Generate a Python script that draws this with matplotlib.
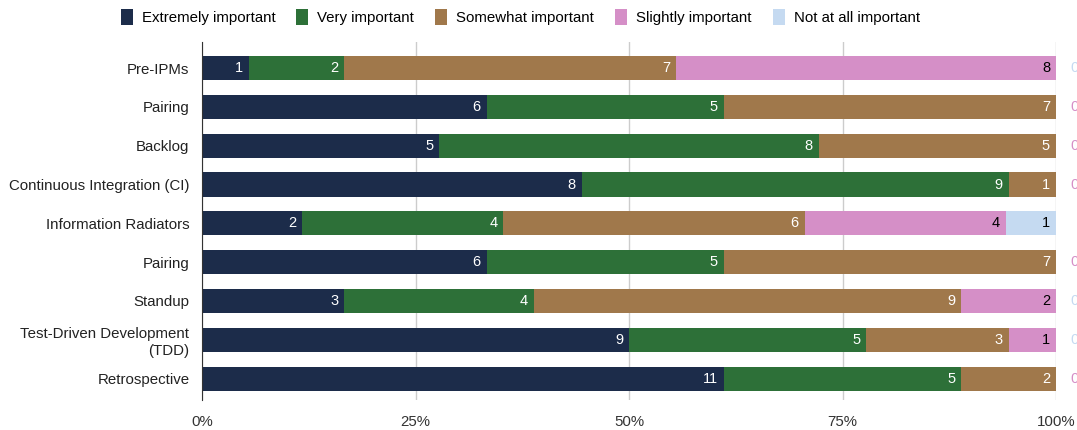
import numpy as np
from matplotlib import pyplot as plt

plt.rcParams['font.family'] = ['Liberation Sans', 'DejaVu Sans']

practices = ['Pre-IPMs', 'Pairing', 'Backlog', 'Continuous Integration (CI)',
             'Information Radiators', 'Pairing', 'Standup',
             'Test-Driven Development\n(TDD)', 'Retrospective']
levels = ['Extremely important', 'Very important', 'Somewhat important',
          'Slightly important', 'Not at all important']

extremely = [1, 6, 5, 8, 2, 6, 3, 9, 11]
very = [2, 5, 8, 9, 4, 5, 4, 5, 5]
somewhat = [7, 7, 5, 1, 6, 7, 9, 3, 2]
slightly = [8, 0, 0, 0, 4, 0, 2, 1, 0]
not_at_all = [0, 0, 0, 0, 1, 0, 0, 0, 0]

colors = ['#1c2c4a', '#2d7038', '#a0784b', '#d58fc7', '#c5daf1']
text_colors = ['white', 'white', 'white', 'black', 'black']

series = np.array([extremely, very, somewhat, slightly, not_at_all], dtype=float)
totals = series.sum(axis=0)
shares = series / totals

fig = plt.figure(figsize=(10.77, 4.30), dpi=100)
ax = fig.add_axes([202 / 1077, 30 / 430, 854 / 1077, 358 / 430])

y = np.arange(len(practices))
left = np.zeros(len(practices))
for i, name in enumerate(levels):
    ax.barh(y, shares[i], left=left, height=0.62, color=colors[i],
            label=name, zorder=2)
    for j in range(len(practices)):
        if series[i, j] > 0:
            ax.text(left[j] + shares[i, j] - 0.007, y[j], str(int(series[i, j])),
                    ha='right', va='center', fontsize=10.5, color=text_colors[i],
                    zorder=3)
    left += shares[i]

# zero-valued segments get their label just past the end of the bar
for j in range(len(practices)):
    if slightly[j] == 0:
        zcol = colors[3]
    elif not_at_all[j] == 0:
        zcol = colors[4]
    else:
        continue
    ax.text(1.017, y[j], '0', ha='left', va='center', fontsize=10.5,
            color=zcol, clip_on=False)

ax.set_xlim(0, 1)
ax.set_ylim(8.55, -0.67)
ax.set_yticks(y)
ax.set_yticklabels(practices, fontsize=10.8, color='#222222')
ax.set_xticks([0, 0.25, 0.5, 0.75, 1])
ax.set_xticklabels(['0%', '25%', '50%', '75%', '100%'], fontsize=10.8, color='#333333')
ax.tick_params(length=0, pad=9)
ax.tick_params(axis='x', pad=11)
ax.grid(axis='x', color='#cccccc', linewidth=1, zorder=0)
for s in ['top', 'right', 'bottom']:
    ax.spines[s].set_visible(False)
ax.spines['left'].set_color('#333333')
ax.spines['left'].set_zorder(4)

fig.legend(loc='upper center', bbox_to_anchor=(0.483, 1.01), ncol=5,
           frameon=False, fontsize=10.8, handlelength=0.8, handleheight=1.2,
           handletextpad=0.6, columnspacing=1.4)

plt.savefig('out.png', dpi=100)
